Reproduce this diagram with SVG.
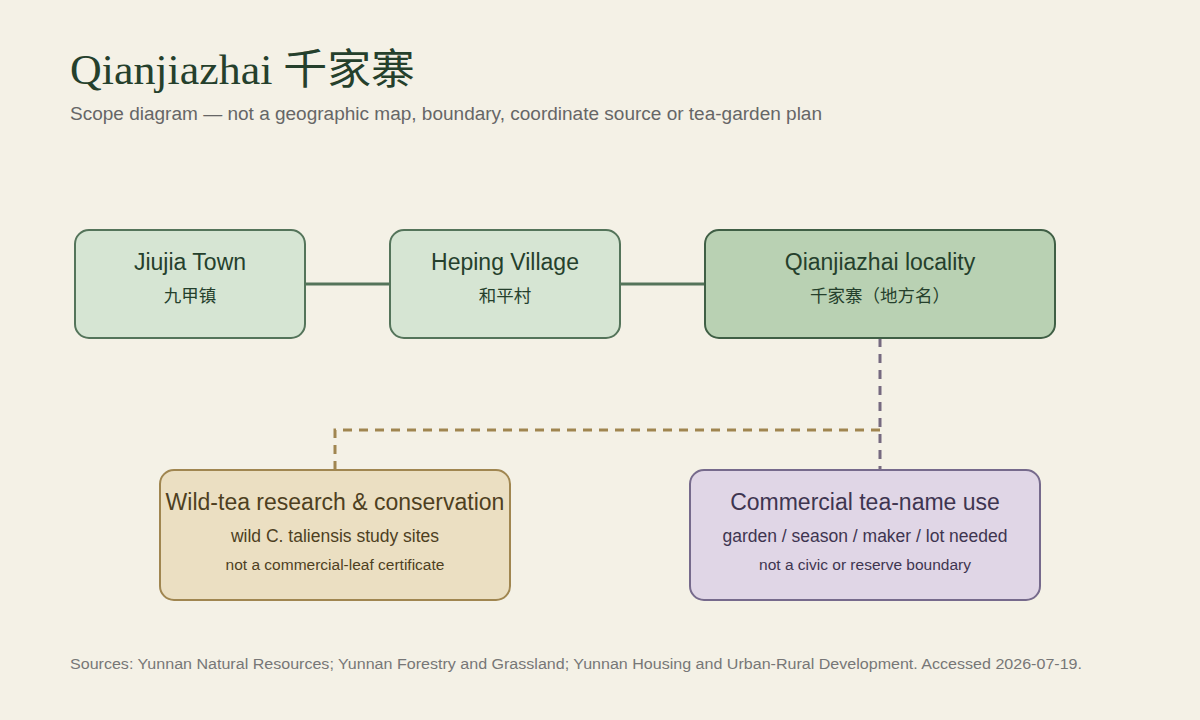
<svg xmlns="http://www.w3.org/2000/svg" width="1200" height="720" viewBox="0 0 1200 720">
<style>
.t{font-family:"Liberation Sans",Arial,"Noto Sans CJK SC",sans-serif;text-anchor:middle}
.h{font-size:23px}
.s{font-size:17.5px}
.x{font-size:15.5px}
.g{fill:#25402c}
</style>
<rect width="1200" height="720" fill="#f4f1e6"/>
<text x="70" y="84" font-family="'Liberation Serif','Noto Sans CJK SC',serif" font-size="42" fill="#25402c" textLength="345" lengthAdjust="spacingAndGlyphs">Qianjiazhai 千家寨</text>
<text x="70" y="120" font-family="'Liberation Sans',sans-serif" font-size="18" fill="#666" textLength="752" lengthAdjust="spacingAndGlyphs">Scope diagram — not a geographic map, boundary, coordinate source or tea-garden plan</text>
<g id="connectors" fill="none" stroke-width="3">
<line x1="305" y1="284" x2="390" y2="284" stroke="#54745a"/>
<line x1="620" y1="284" x2="705" y2="284" stroke="#54745a"/>
<path d="M880 430 H335 V470" stroke="#a08650" stroke-dasharray="9 7"/>
<path d="M880 338 V470" stroke="#766a80" stroke-dasharray="9 7"/>
</g>
<g id="jiujia"><rect x="75" y="230" width="230" height="108" rx="14" fill="#d6e5d3" stroke="#54745a" stroke-width="2"/>
<text class="t h g" x="190" y="270">Jiujia Town</text><text class="t s g" x="190" y="302">九甲镇</text></g>
<g id="heping"><rect x="390" y="230" width="230" height="108" rx="14" fill="#d6e5d3" stroke="#54745a" stroke-width="2"/>
<text class="t h g" x="505" y="270">Heping Village</text><text class="t s g" x="505" y="302">和平村</text></g>
<g id="qianjiazhai"><rect x="705" y="230" width="350" height="108" rx="14" fill="#b9d1b3" stroke="#3f5f45" stroke-width="2"/>
<text class="t h g" x="880" y="270">Qianjiazhai locality</text><text class="t s g" x="880" y="302">千家寨（地方名）</text></g>
<g id="wild"><rect x="160" y="470" width="350" height="130" rx="14" fill="#ebdfc2" stroke="#a08650" stroke-width="2"/>
<text class="t h" fill="#4e3f1f" x="335" y="510">Wild-tea research &amp; conservation</text>
<text class="t s" fill="#4e3f1f" x="335" y="542">wild C. taliensis study sites</text>
<text class="t x" fill="#4e3f1f" x="335" y="570">not a commercial-leaf certificate</text></g>
<g id="commercial"><rect x="690" y="470" width="350" height="130" rx="14" fill="#e0d6e6" stroke="#766a8c" stroke-width="2"/>
<text class="t h" fill="#3e3550" x="865" y="510">Commercial tea-name use</text>
<text class="t s" fill="#3e3550" x="865" y="542">garden / season / maker / lot needed</text>
<text class="t x" fill="#3e3550" x="865" y="570">not a civic or reserve boundary</text></g>
<text x="70" y="669" font-family="'Liberation Sans',sans-serif" font-size="15.5" fill="#777" textLength="1012" lengthAdjust="spacingAndGlyphs">Sources: Yunnan Natural Resources; Yunnan Forestry and Grassland; Yunnan Housing and Urban-Rural Development. Accessed 2026-07-19.</text>
</svg>
